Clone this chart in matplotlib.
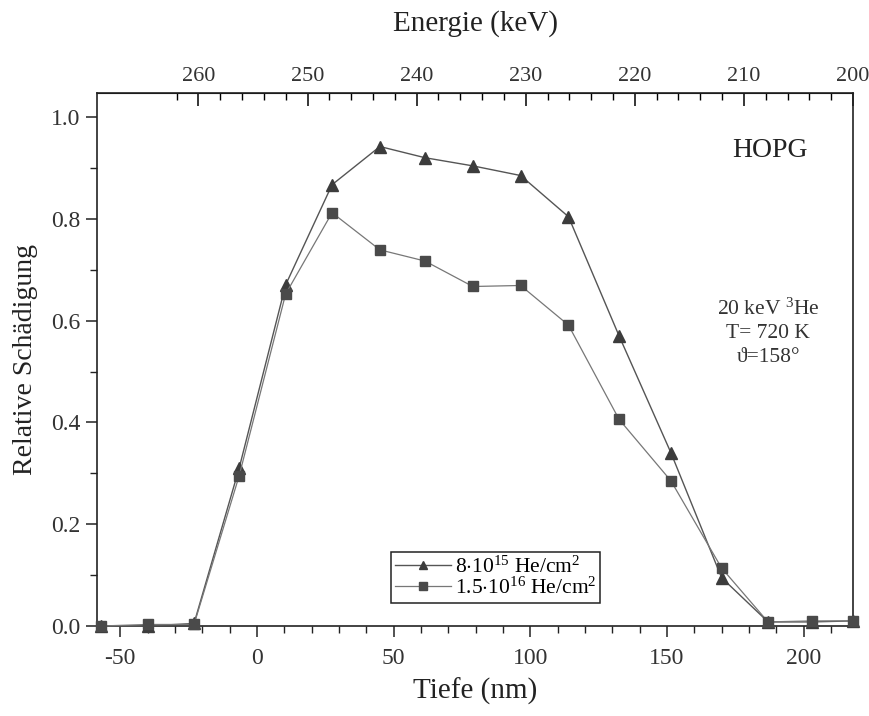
import matplotlib.pyplot as plt
from matplotlib.ticker import MultipleLocator, FixedLocator

plt.rcParams['font.family'] = ['Liberation Serif', 'DejaVu Serif']
plt.rcParams['mathtext.fontset'] = 'custom'
plt.rcParams['mathtext.rm'] = 'Liberation Serif'
plt.rcParams['mathtext.it'] = 'Liberation Serif:italic'
plt.rcParams['axes.unicode_minus'] = False

# Tiefe der Messpunkte (nm) und relative Schaedigung fuer beide Dosen
tiefe = [-57, -40, -23, -6.5, 10.5, 27.5, 45, 61.5, 79, 96.5, 114, 132.5, 151.5, 170, 187, 203, 218]
dosis_8e15 = [0.0, 0.0, 0.005, 0.31, 0.67, 0.867, 0.942, 0.92, 0.904, 0.885, 0.804, 0.57, 0.34, 0.095, 0.008, 0.008, 0.01]
dosis_15e16 = [0.0, 0.003, 0.003, 0.295, 0.652, 0.812, 0.739, 0.717, 0.667, 0.669, 0.591, 0.406, 0.285, 0.114, 0.008, 0.01, 0.01]

label_8e15 = r'8$\cdot$10$^{15}$ He/cm$^2$'
label_15e16 = r'1.5$\cdot$10$^{16}$ He/cm$^2$'

energie_ticks = [260, 250, 240, 230, 220, 210, 200]


# Umrechnung Tiefe <-> Energie der rueckgestreuten Teilchen
def tiefe_zu_energie(d):
    return 260 - (d + 21.4) * 60 / 239.5


def energie_zu_tiefe(e):
    return (260 - e) * 239.5 / 60 - 21.4


fig = plt.figure(figsize=(8.7, 7.16), dpi=100)
ax = fig.add_axes([0.1115, 0.1257, 0.869, 0.7443])

ax.plot(tiefe, dosis_8e15, color='#555555', lw=1.0, marker='^', ms=8.5,
        mfc='#3c3c3c', mec='#3c3c3c', clip_on=False, label=label_8e15, zorder=3)
ax.plot(tiefe, dosis_15e16, color='#777777', lw=0.9, marker='s', ms=6.5,
        mfc='#4a4a4a', mec='#4a4a4a', clip_on=False, label=label_15e16, zorder=3)

ax.set_xlim(-58.5, 218.1)
ax.set_ylim(0, 1.047)
ax.xaxis.set_major_locator(MultipleLocator(50))
ax.xaxis.set_minor_locator(MultipleLocator(10))
ax.yaxis.set_major_locator(FixedLocator([0.0, 0.2, 0.4, 0.6, 0.8, 1.0]))
ax.yaxis.set_minor_locator(FixedLocator([0.1, 0.3, 0.5, 0.7, 0.9]))
ax.yaxis.set_major_formatter(plt.FuncFormatter(lambda v, p: f'{v:.1f}'))

ax.tick_params(axis='both', which='major', direction='out', length=8, width=1.1,
               labelsize=17, labelcolor='#333333', color='#222222')
ax.tick_params(axis='both', which='minor', direction='out', length=5, width=1.0, color='#222222')
ax.tick_params(axis='x', pad=8)
ax.tick_params(axis='y', pad=4)

for s in ax.spines.values():
    s.set_linewidth(1.2)
    s.set_color('#222222')

ax.set_xlabel('Tiefe (nm)', fontsize=21, color='#222222', labelpad=6)
ax.set_ylabel('Relative Schädigung', fontsize=20, color='#222222', labelpad=9)

# obere Achse: Energie
sec = ax.secondary_xaxis('top', functions=(tiefe_zu_energie, energie_zu_tiefe))
sec.xaxis.set_major_locator(FixedLocator(energie_ticks))
sec.xaxis.set_minor_locator(FixedLocator(list(range(200, 264, 2))))
sec.tick_params(which='major', direction='in', length=9, width=1.1,
                labelsize=16, labelcolor='#333333', pad=5)
sec.tick_params(which='minor', direction='in', length=5, width=1.0)
sec.set_xlabel('Energie (keV)', fontsize=21, color='#222222', labelpad=26)

ax.text(0.89, 0.893, 'HOPG', transform=ax.transAxes, fontsize=20,
        ha='center', va='center', color='#222222')
ax.text(0.888, 0.55, '20 keV $^3$He\nT= 720 K\n\u03d1=158°', transform=ax.transAxes,
        fontsize=15.5, ha='center', va='center', color='#333333', linespacing=1.3)

leg = ax.legend(loc='lower left', bbox_to_anchor=(0.389, 0.043), fontsize=15.5,
                handlelength=2.6, handletextpad=0.15, borderpad=0.2,
                labelspacing=0.0, fancybox=False, framealpha=1, borderaxespad=0)
leg.get_frame().set_edgecolor('#222222')
leg.get_frame().set_linewidth(1.1)
for h in leg.legend_handles:
    h.set_markersize(6)

fig.savefig('out.png', dpi=100)
